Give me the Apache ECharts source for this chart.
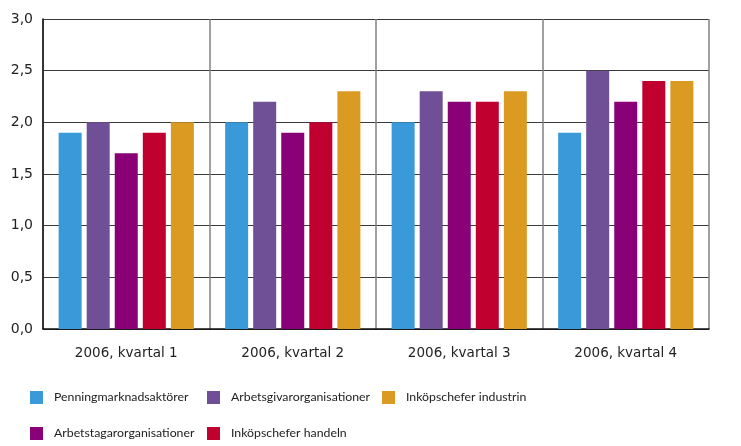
<!DOCTYPE html>
<html>
<head>
<meta charset="utf-8">
<script src="https://cdn.jsdelivr.net/npm/echarts@6/dist/echarts.min.js"></script>
<style>
  html, body { margin: 0; padding: 0; background: #fff; }
  #chart { width: 741px; height: 446px; }
</style>
</head>
<body>
<div id="chart"></div>
<script>
  // kategorier och serier
  const quarters = ['2006, kvartal 1', '2006, kvartal 2', '2006, kvartal 3', '2006, kvartal 4'];
  const penning = [1.9, 2.0, 2.0, 1.9];
  const arbetsgivar = [2.0, 2.2, 2.3, 2.5];
  const arbetstagar = [1.7, 1.9, 2.2, 2.2];
  const handeln = [1.9, 2.0, 2.2, 2.4];
  const industrin = [2.0, 2.3, 2.3, 2.4];

  const names = ['Penningmarknadsaktörer', 'Arbetsgivarorganisationer', 'Arbetstagarorganisationer',
    'Inköpschefer handeln', 'Inköpschefer industrin'];
  const colors = ['#3a9ad9', '#6f4f96', '#8a0077', '#c0002f', '#db9a22'];
  const seriesData = [penning, arbetsgivar, arbetstagar, handeln, industrin];

  const chart = echarts.init(document.getElementById('chart'));

  const legendBase = {
    orient: 'vertical',
    top: 391,
    padding: 0,
    itemWidth: 13,
    itemHeight: 13,
    itemGap: 23,
    icon: 'rect',
    textStyle: {
      fontFamily: 'Lato', fontSize: 12.3, color: '#222',
      lineHeight: 13, padding: [0, 0, 0, 6]
    }
  };

  const option = {
    animation: false,
    color: colors,
    grid: { left: 43, right: 32, top: 19, bottom: 117 },
    legend: [
      Object.assign({ left: 30, data: [names[0], names[2]] }, legendBase),
      Object.assign({ left: 207, data: [names[1], names[3]] }, legendBase),
      Object.assign({ left: 382, data: [names[4]] }, legendBase)
    ],
    xAxis: {
      type: 'category',
      data: quarters,
      axisLine: { lineStyle: { color: '#111', width: 1.5 } },
      axisTick: { show: false },
      axisLabel: { fontFamily: 'DejaVu Sans', fontSize: 13.5, color: '#222', margin: 17 },
      splitLine: { show: true, interval: 0, lineStyle: { color: '#808080', width: 1.5 } }
    },
    yAxis: {
      type: 'value',
      min: 0,
      max: 3,
      interval: 0.5,
      axisLine: { show: true, lineStyle: { color: '#111', width: 1.5 } },
      axisTick: { show: false },
      axisLabel: {
        fontFamily: 'DejaVu Sans', fontSize: 14, color: '#222', margin: 10,
        formatter: v => v.toFixed(1).replace('.', ',')
      },
      splitLine: { lineStyle: { color: '#3a3a3a', width: 1.2 } }
    },
    series: names.map((n, i) => ({
      name: n,
      type: 'bar',
      data: seriesData[i],
      barWidth: 23,
      barGap: '22%',
      itemStyle: { color: colors[i] }
    }))
  };

  chart.setOption(option);
</script>
</body>
</html>
